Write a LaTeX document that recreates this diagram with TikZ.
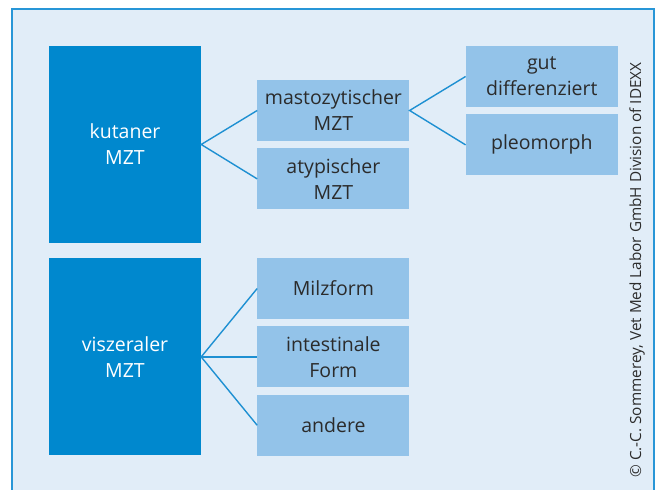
\documentclass[tikz,border=0pt]{standalone}
\usepackage{fontspec}
\setmainfont{Open Sans}
\usepackage{tikz}
\usetikzlibrary{positioning}

\definecolor{bgblue}{RGB}{225,237,248}
\definecolor{frameblue}{RGB}{40,150,215}
\definecolor{darkbox}{RGB}{0,136,206}
\definecolor{lightbox}{RGB}{147,195,233}
\definecolor{linkblue}{RGB}{30,144,210}
\definecolor{textgray}{RGB}{43,43,43}

\begin{document}
\begin{tikzpicture}[x=1pt, y=1pt,
    main/.style={rectangle, fill=darkbox, text=white, minimum width=152pt, minimum height=197pt, inner sep=0pt, align=center, font=\fontsize{19.5}{26}\selectfont},
    sub/.style={rectangle, fill=lightbox, text=textgray, minimum width=152pt, minimum height=61pt, inner sep=0pt, align=center, font=\fontsize{19.5}{26}\selectfont},
    link/.style={draw=linkblue, line width=1.4pt}]
    \useasboundingbox (0,0) rectangle (660,489);
    \clip (0,0) rectangle (660,489);
    \draw[fill=bgblue, draw=frameblue, line width=2pt] (12,-10) rectangle (654,480);

    % Kutaner
    \node[main] (kut) at (125,344.5) {kutaner\\MZT};
    \node[sub, right=56pt of kut, yshift=34pt] (masto) {mastozytischer\\MZT};
    \node[sub, below=7pt of masto] (atyp) {atypischer\\MZT};
    \node[sub, right=56pt of masto, yshift=34pt] (gut) {gut\\differenziert};
    \node[sub, below=7pt of gut] (pleo) {pleomorph};
    \draw[link] (masto.west) -- (kut.east) -- (atyp.west);
    \draw[link] (gut.west) -- (masto.east) -- (pleo.west);

    % Viszeraler
    \node[main, below=15pt of kut] (visz) {viszeraler\\MZT};
    \node[sub, right=56pt of visz] (intest) {intestinale\\Form};
    \node[sub, above=7pt of intest] (milz) {Milzform};
    \node[sub, below=7pt of intest] (andere) {andere};
    \draw[link] (milz.west) -- (visz.east) -- (andere.west);
    \draw[link] (visz.east) -- (intest.west);

    % Copyright
    \node[rotate=90, text=textgray, font=\fontsize{15.3}{18}\selectfont] (copy) at (637,219) {© C.-C. Sommerey, Vet Med Labor GmbH Division of IDEXX};
\end{tikzpicture}
\end{document}
